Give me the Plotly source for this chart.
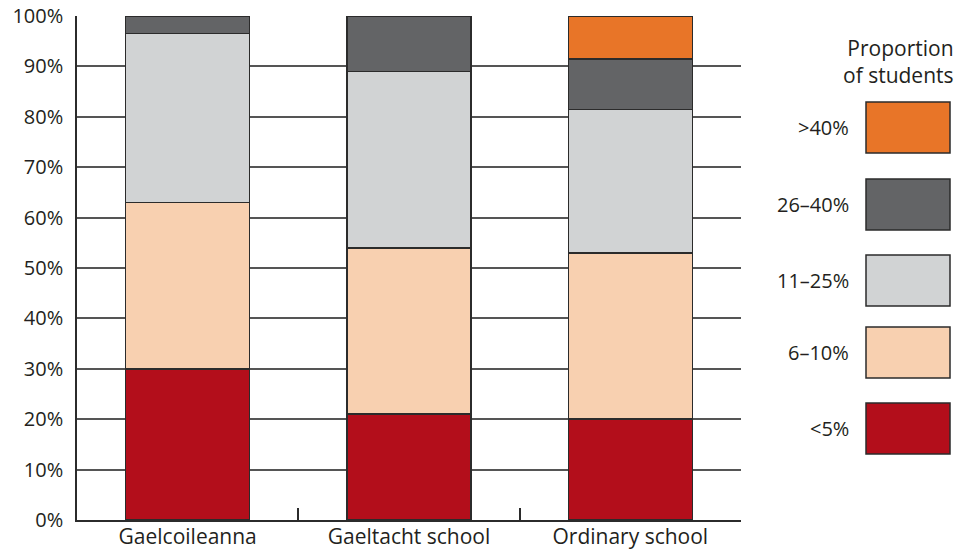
import plotly.graph_objects as go

categories = ["Gaelcoileanna", "Gaeltacht school", "Ordinary school"]
series_names = ["<5%", "6\u201310%", "11\u201325%", "26\u201340%", ">40%"]
lt5 = [30.0, 21.0, 20.0]
p6_10 = [33.0, 33.0, 33.0]
p11_25 = [33.5, 35.0, 28.4]
p26_40 = [3.5, 11.0, 10.1]
gt40 = [0.0, 0.0, 8.5]
colors = ["#b30e1b", "#f8d0b0", "#d1d3d4", "#636466", "#e87528"]
y_ticks = list(range(0, 101, 10))
y_tick_labels = [f"{v}%" for v in y_ticks]
legend_title = "Proportion<br>of students"

W, H = 962, 552
L, R, T, B = 77, 221, 16, 32
FONT = "Open Sans"
TXT = "#231f20"
EDGE = "#2b2b2b"

fig = go.Figure()
for name, vals, col in zip(series_names, [lt5, p6_10, p11_25, p26_40, gt40], colors):
    fig.add_trace(go.Bar(
        x=categories, y=vals, name=name,
        marker=dict(color=col, line=dict(color=EDGE, width=1.5)),
        showlegend=False, hoverinfo="x+y+name",
    ))

pw = W - L - R
ph = H - T - B
def px_x(x):  # page pixel -> paper
    return (x - L) / pw
def px_y(y):
    return (H - B - y) / ph

shapes = []
annotations = []
box_tops = [102, 179, 255, 327, 403]
box_h = 51
for i, (name, col) in enumerate(zip(series_names[::-1], colors[::-1])):
    top = box_tops[i]
    shapes.append(dict(type="rect", xref="paper", yref="paper",
                       x0=px_x(866), x1=px_x(950), y0=px_y(top + box_h), y1=px_y(top),
                       fillcolor=col, line=dict(color=EDGE, width=1.5), layer="above"))
    annotations.append(dict(xref="paper", yref="paper", x=px_x(851), y=px_y(top + box_h / 2),
                            text=name, showarrow=False, xanchor="right", yanchor="middle",
                            font=dict(family=FONT, size=20, color=TXT)))
annotations.append(dict(xref="paper", yref="paper", x=px_x(956), y=px_y(61),
                        text=legend_title, showarrow=False, xanchor="right", yanchor="middle",
                        align="right", font=dict(family=FONT, size=21, color=TXT)))

fig.update_layout(
    barmode="stack",
    bargap=0.44,
    width=W, height=H,
    margin=dict(l=L, r=R, t=T, b=B, pad=0),
    paper_bgcolor="white", plot_bgcolor="white",
    font=dict(family=FONT, size=20, color=TXT),
    shapes=shapes, annotations=annotations,
    xaxis=dict(
        automargin=False, ticklabeloverflow="allow",
        showline=True, linecolor=EDGE, linewidth=2,
        ticks="inside", tickson="boundaries", ticklen=12, tickcolor=EDGE, tickwidth=1.5,
        ticklabelstandoff=-3,
        showgrid=False, tickfont=dict(family=FONT, size=21, color=TXT),
    ),
    yaxis=dict(
        automargin=False, ticklabeloverflow="allow",
        range=[0, 100], tickvals=y_ticks, ticktext=y_tick_labels,
        showline=True, linecolor=EDGE, linewidth=1.5,
        showgrid=True, gridcolor="#555555", gridwidth=1.5,
        ticks="", ticklabelstandoff=8, zeroline=False,
        tickfont=dict(family=FONT, size=20, color=TXT),
    ),
)

fig.write_html(
    "out.html",
    config={"displayModeBar": False},
    post_script="document.body.style.margin='0';document.body.style.overflow='hidden';",
)
